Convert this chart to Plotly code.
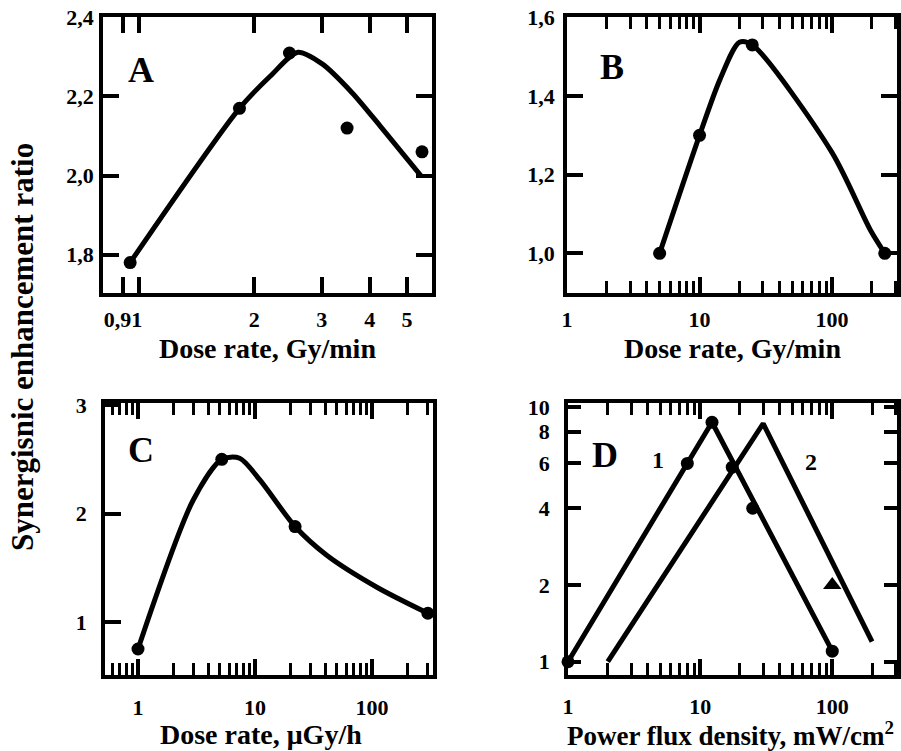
import plotly.graph_objects as go

# ---------------- data ----------------
# Panel A
a_pts_x = [0.95, 1.83, 2.47, 3.49, 5.47]
a_pts_y = [1.78, 2.17, 2.31, 2.12, 2.06]
a_fit_x = [0.95, 1.83, 2.2, 2.6, 3.0, 3.6, 4.3, 5.43]
a_fit_y = [1.78, 2.17, 2.251, 2.312, 2.283, 2.209, 2.12, 2.0]
a_xticks = [0.91, 1, 2, 3, 4, 5]
a_xtext = ["0,91", " ", "2", "3", "4", "5"]
a_yticks = [1.8, 2.0, 2.2, 2.4]
a_ytext = ["1,8", "2,0", "2,2", "2,4"]

# Panel B
b_pts_x = [5, 10, 25, 250]
b_pts_y = [1.0, 1.30, 1.53, 1.0]
b_fit_x = [5, 10, 14.3, 20, 25, 100, 194, 250]
b_fit_y = [1.0, 1.30, 1.443, 1.537, 1.53, 1.256, 1.06, 1.0]
b_yticks = [1.0, 1.2, 1.4, 1.6]
b_ytext = ["1,0", "1,2", "1,4", "1,6"]

# Panel C
c_pts_x = [1, 5.2, 22, 300]
c_pts_y = [0.75, 2.5, 1.88, 1.08]
c_fit_x = [1, 2.95, 5.2, 7.4, 11, 22, 41, 110, 300]
c_fit_y = [0.75, 2.12, 2.5, 2.51, 2.31, 1.88, 1.615, 1.32, 1.08]
c_yticks = [1, 2, 3]
c_ytext = ["1", "2", "3"]

# Panel D
d1_x = [1, 12.3, 100]
d1_y = [1, 8.7, 1.1]
d1_pts_x = [1, 8, 12.3, 17.5, 25, 100]
d1_pts_y = [1, 6, 8.7, 5.8, 4.0, 1.1]
d2_x = [2, 30, 200]
d2_y = [1, 8.6, 1.2]
d2_tri_x = [100]
d2_tri_y = [2.0]
d_yticks = [1, 2, 4, 6, 8, 10]
d_ytext = ["1", "2", "4", "6", "8", "10"]

dec_ticks = [1, 10, 100]
dec_text = ["1", "10", "100"]
minor_ticks = [0.6, 0.7, 0.8, 0.9, 2, 3, 4, 5, 6, 7, 8, 9, 20, 30, 40, 50, 60, 70, 80, 90, 200, 300]

# ---------------- figure ----------------
FONT = "Liberation Serif"
LW = 5
MS = 13

fig = go.Figure()


def curve(xs, ys, ax, shape="spline"):
    fig.add_trace(go.Scatter(x=xs, y=ys, mode="lines", xaxis="x" + ax, yaxis="y" + ax,
                             line=dict(color="black", width=LW, shape=shape, smoothing=0.8),
                             cliponaxis=False, showlegend=False, hoverinfo="skip"))


def points(xs, ys, ax, symbol="circle", size=MS):
    fig.add_trace(go.Scatter(x=xs, y=ys, mode="markers", xaxis="x" + ax, yaxis="y" + ax,
                             marker=dict(color="black", size=size, symbol=symbol, line=dict(width=0)),
                             cliponaxis=False, showlegend=False))


curve(a_fit_x, a_fit_y, "")
points(a_pts_x, a_pts_y, "")
curve(b_fit_x, b_fit_y, "2")
points(b_pts_x, b_pts_y, "2")
curve(c_fit_x, c_fit_y, "3")
points(c_pts_x, c_pts_y, "3")
curve(d1_x, d1_y, "4", shape="linear")
curve(d2_x, d2_y, "4", shape="linear")
points(d1_pts_x, d1_pts_y, "4")
points(d2_tri_x, d2_tri_y, "4", symbol="triangle-up", size=16)

tickfont = dict(family=FONT, size=22, color="black", weight="bold")


def axis(domain, anchor, rng, tickvals, ticktext, log=False, mirror="ticks", minor=False,
         ticklen=16, standoff=6):
    d = dict(domain=domain, anchor=anchor, range=rng, type="log" if log else "linear",
             tickmode="array", tickvals=tickvals, ticktext=ticktext, tickangle=0,
             ticks="inside", ticklen=ticklen, tickwidth=3.5, tickcolor="black",
             showline=True, linewidth=3.5, linecolor="black", mirror=mirror,
             showgrid=False, zeroline=False, tickfont=tickfont,
             ticklabelstandoff=standoff, automargin=False, fixedrange=True)
    if minor:
        d["minor"] = dict(tickmode="array", tickvals=minor_ticks, ticks="inside", ticklen=12,
                          tickwidth=3, tickcolor="black", showgrid=False)
    return d


xA = [103 / 901, 432 / 901]
xB = [567 / 901, 897 / 901]
xC = [105 / 901, 433 / 901]
xD = [568 / 901, 897 / 901]
yTop = [1 - 293 / 751, 1 - 17 / 751]
yBot = [1 - 675 / 751, 1 - 403 / 751]

fig.update_layout(
    width=901, height=751, margin=dict(l=0, r=0, t=0, b=0),
    paper_bgcolor="white", plot_bgcolor="white", showlegend=False,
    xaxis=axis(xA, "y", [-0.093, 0.764], a_xticks, a_xtext, log=True, standoff=4),
    yaxis=axis(yTop, "x", [1.703, 2.401], a_yticks, a_ytext, standoff=1),
    xaxis2=axis(xB, "y2", [0, 2.49], dec_ticks, dec_text, log=True, minor=True, standoff=4),
    yaxis2=axis(yTop, "x2", [0.899, 1.601], b_yticks, b_ytext, standoff=4),
    xaxis3=axis(xC, "y3", [-0.282, 2.521], dec_ticks, dec_text, log=True, minor=True, standoff=10),
    yaxis3=axis(yBot, "x3", [0.51, 3.02], c_yticks, c_ytext, mirror=True, standoff=10),
    xaxis4=axis(xD, "y4", [0, 2.49], dec_ticks, dec_text, log=True, minor=True, standoff=9),
    yaxis4=axis(yBot, "x4", [-0.052, 1.015], d_yticks, d_ytext, log=True, ticklen=13, standoff=10),
)

titlefont = dict(family=FONT, size=28, color="black", weight="bold")
letterfont = dict(family=FONT, size=36, color="black", weight="bold")
numfont = dict(family=FONT, size=24, color="black", weight="bold")


def ann(text, px, py, font, angle=0):
    fig.add_annotation(text=text, x=px / 901, y=1 - py / 751, xref="paper", yref="paper",
                       showarrow=False, font=font, textangle=angle,
                       xanchor="center", yanchor="middle")


ann("Dose rate, Gy/min", 267, 348, titlefont)
ann("Dose rate, Gy/min", 732, 348, titlefont)
ann("Dose rate, \u03bcGy/h", 261, 734, titlefont)
ann("Power flux density, mW/cm<sup>2</sup>", 730, 734, dict(family=FONT, size=27, color="black", weight="bold"))
ann("Synergisnic enhancement ratio", 22, 347, dict(family=FONT, size=31, color="black", weight="bold"), angle=-90)

ann("A", 141, 70, letterfont)
ann("B", 612, 67, letterfont)
ann("C", 141, 450, letterfont)
ann("D", 605, 455, letterfont)
ann("1", 658, 460, numfont)
ann("2", 811, 462, numfont)

fig.write_html("out.html")
